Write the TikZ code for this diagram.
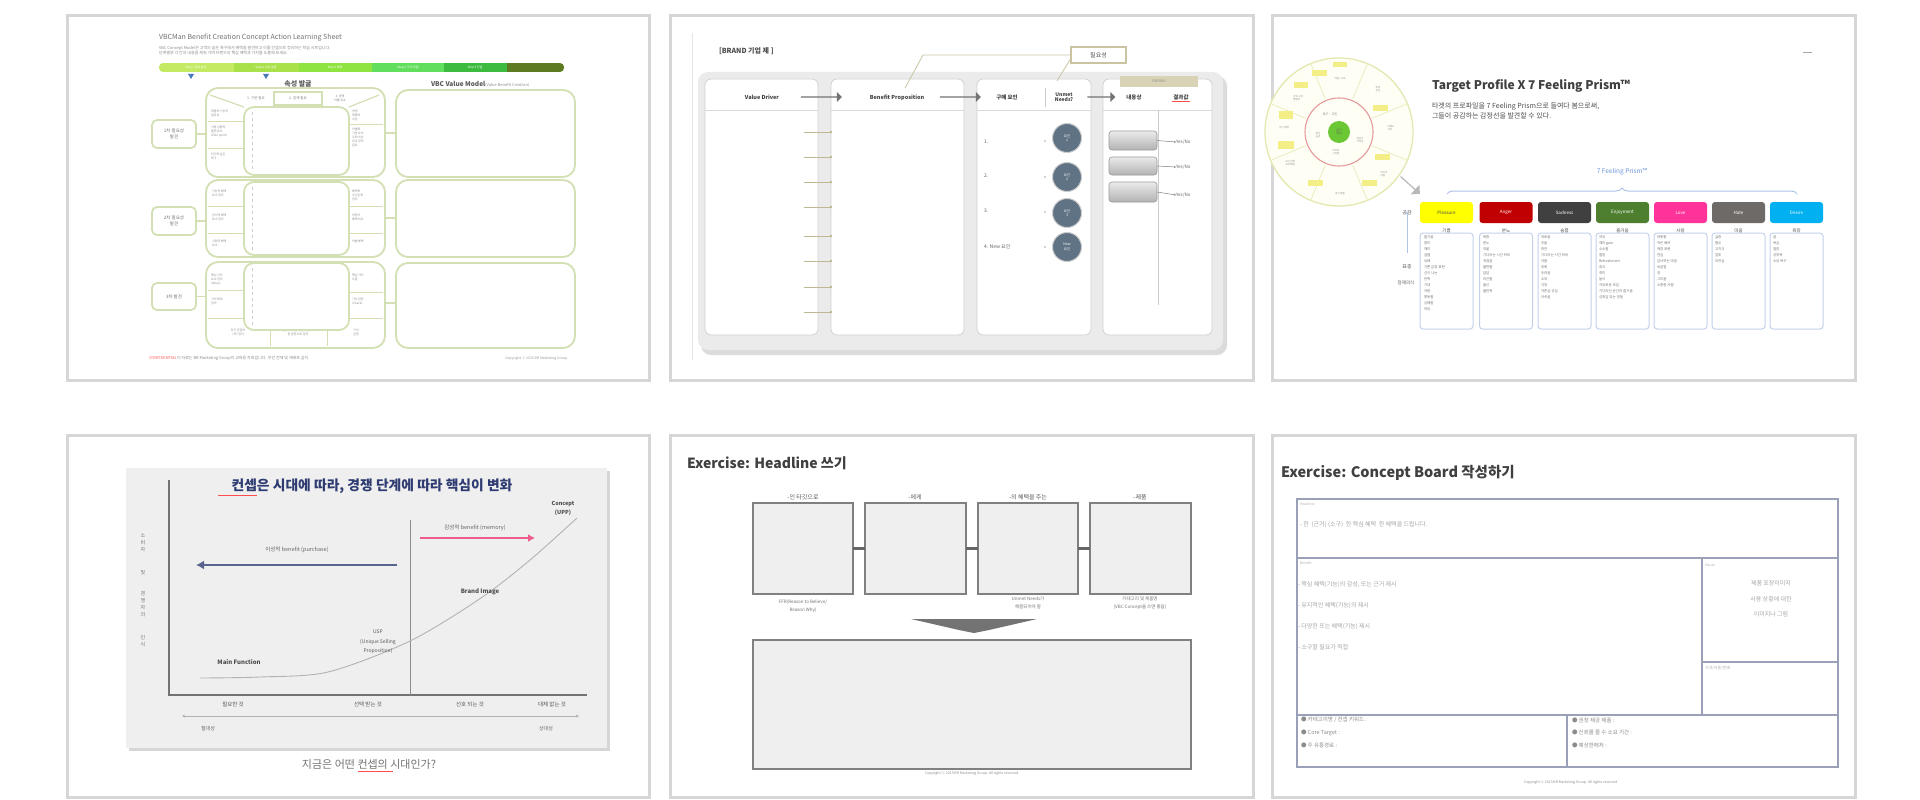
\documentclass[tikz,border=0pt]{standalone}
\usepackage{fontspec}
\setmainfont{Noto Sans CJK KR}
\usetikzlibrary{shapes.arrows,decorations.pathreplacing,arrows.meta}
\newcommand{\fsz}[2]{\fontsize{#1}{#2}\selectfont}
\definecolor{pnl}{HTML}{D6D6D6}
\definecolor{lg}{HTML}{D2E0B3}
\definecolor{barA}{HTML}{C3EA62}
\definecolor{barB}{HTML}{A9E14A}
\definecolor{barC}{HTML}{90E43F}
\definecolor{barD}{HTML}{62DE5E}
\definecolor{barE}{HTML}{3DBB3F}
\definecolor{barF}{HTML}{5C7C1F}
\definecolor{mk}{HTML}{4A79B8}
\definecolor{cont}{HTML}{EBEBEB}
\definecolor{tan}{HTML}{D9D3B6}
\definecolor{tanline}{HTML}{CAC4A3}
\definecolor{olv}{HTML}{BDB88F}
\definecolor{circ}{HTML}{5F7385}
\definecolor{emA}{HTML}{FFFF00}
\definecolor{emB}{HTML}{C00000}
\definecolor{emC}{HTML}{404040}
\definecolor{emD}{HTML}{4E7F2E}
\definecolor{emE}{HTML}{FF3399}
\definecolor{emF}{HTML}{6E6A68}
\definecolor{emG}{HTML}{00B0F0}
\definecolor{navy}{HTML}{2F3C72}
\definecolor{pinkar}{HTML}{EE5C8E}
\definecolor{bgfour}{HTML}{EFEFEF}
\definecolor{bdsix}{HTML}{9AA0B8}
\definecolor{prism}{HTML}{6E96DB}
\definecolor{prismline}{HTML}{AFC3E8}
\definecolor{listbd}{HTML}{C3D1EB}
\definecolor{ringy}{HTML}{E3E8B0}
\definecolor{ringr}{HTML}{E39A9A}
\definecolor{hily}{HTML}{F3EF86}
\begin{document}
\begin{tikzpicture}[x=1pt,y=-1pt,
  panel/.style={draw=pnl,line width=3},
  t/.style={inner sep=0pt,outer sep=0pt},
  gbox/.style={draw=lg,line width=1.8,fill=white},
  tiny/.style={t,font=\fsz{3}{4},text=black!45,align=left},
  col/.style={draw=black!18,fill=white,rounded corners=6,line width=0.8},
  btn/.style={draw=black!40,rounded corners=3,top color=black!8,bottom color=black!30,line width=0.6},
  bigarrow/.style={single arrow,fill=black!55,inner sep=0pt,minimum height=41,minimum width=10,single arrow head extend=1.5},
  emo/.style={t,rounded corners=3,minimum width=53,minimum height=21,font=\fsz{4.5}{5},text=white},
  lst/.style={t,anchor=north west,align=left,font=\fsz{3.5}{6},text=black!55},
  hbox/.style={draw=black!50,fill=bgfour,line width=1.3},
  bd/.style={draw=bdsix,line width=1.1},
  bul/.style={t,anchor=west,font=\fsz{5.5}{6},text=black!45},
]
\useasboundingbox[fill=white] (0,0) rectangle (1920,800);

%================ PANEL 1 =================
\draw[panel] (67,16) rectangle (649,380);
\node[t,anchor=west,text=black!55,font=\fsz{7}{8}] (p1title) at (159,38) {VBCMan Benefit Creation Concept Action Learning Sheet};
\node[t,anchor=north west,align=left,text=black!45,font=\fsz{4}{5.5}] (p1sub) at (159,46) {VBC Concept Model은 고객의 숨은 욕구에서 혜택을 발견하고 이를 컨셉으로 정리하는 학습 시트입니다.\\단계별로 각 칸의 내용을 채워 가며 브랜드의 핵심 혜택과 가치를 도출해 보세요.};
\begin{scope}
\clip[rounded corners=4] (159,63) rectangle (564,72);
\fill[barA] (159,63) rectangle (234,72);
\fill[barB] (234,63) rectangle (299,72);
\fill[barC] (299,63) rectangle (372,72);
\fill[barD] (372,63) rectangle (444,72);
\fill[barE] (444,63) rectangle (507,72);
\fill[barF] (507,63) rectangle (564,72);
\end{scope}
\node[t,font=\fsz{3}{3},text=white] (p1b1) at (196,67.5) {Step 1 필요 발견};
\node[t,font=\fsz{3}{3},text=white] (p1b2) at (266,67.5) {Step 2 속성 발굴};
\node[t,font=\fsz{3}{3},text=white] (p1b3) at (335,67.5) {Step 3 혜택};
\node[t,font=\fsz{3}{3},text=white] (p1b4) at (408,67.5) {Step 4 가치 모델};
\node[t,font=\fsz{3}{3},text=white] (p1b5) at (475,67.5) {Step 5 컨셉};
\fill[mk] (188,74) -- (194,74) -- (191,79) -- cycle;
\fill[mk] (263,74) -- (269,74) -- (266,79) -- cycle;
\node[t,font=\bfseries\fsz{7}{7},text=black!65] (p1h1) at (298,84) {속성 발굴};
\node[t,anchor=west,font=\bfseries\fsz{6.5}{7},text=black!65] (p1h2) at (431,84) {VBC Value Model{\mdseries\fsz{4}{4}\color{black!45} (Value Benefit Creation)}};
% left small boxes
\node[gbox,rounded corners=5,minimum width=44,minimum height=28,t,font=\fsz{4.5}{5.5},text=black!55,align=center] (p1l1) at (174,134) {1차 필요성\\발견};
\node[gbox,rounded corners=5,minimum width=44,minimum height=28,t,font=\fsz{4.5}{5.5},text=black!55,align=center] (p1l2) at (174,221) {2차 필요성\\발견};
\node[gbox,rounded corners=5,minimum width=44,minimum height=27,t,font=\fsz{4.5}{5.5},text=black!55,align=center] (p1l3) at (174,296.5) {3차 발견};
% middle frames
\draw[draw=lg,line width=1.8,rounded corners=12] (206,88) rectangle (385,177);
\draw[draw=lg,line width=1.8,rounded corners=12] (206,180) rectangle (385,257);
\draw[draw=lg,line width=1.8,rounded corners=12] (206,262) rectangle (385,348);
\draw[lg,line width=1.2] (210,95) -- (244,107);
\draw[lg,line width=1.2] (379,95) -- (349,107);
\draw[lg,line width=1.2] (274,92) rectangle (322,105);
\node[t,font=\fsz{3.5}{4},text=black!50] (p1c1) at (256,98) {1. 기본 필요};
\node[t,font=\fsz{3.5}{4},text=black!50] (p1c2) at (298,98) {2. 잠재 필요};
\node[t,font=\fsz{3}{4},text=black!50,align=center] (p1c3) at (340,98) {3. 경쟁\\차별 요소};
\draw[lg,line width=1] (208,121) -- (244,121);
\draw[lg,line width=1] (208,148) -- (244,148);
\draw[lg,line width=1] (208,206) -- (244,206);
\draw[lg,line width=1] (208,233) -- (244,233);
\draw[lg,line width=1] (208,290) -- (244,290);
\draw[lg,line width=1] (208,318) -- (383,318);
\draw[lg,line width=1] (349,124) -- (383,124);
\draw[lg,line width=1] (349,206) -- (383,206);
\draw[lg,line width=1] (349,233) -- (383,233);
\draw[lg,line width=1] (349,292) -- (383,292);
\draw[lg,line width=1] (270,318) -- (270,346);
\draw[lg,line width=1] (327,318) -- (327,346);
\node[tiny,anchor=north west] (p1s1) at (211,110) {제품의 기능적\\필요성};
\node[tiny,anchor=north west] (p1s2) at (211,126) {사용 상황의\\불편 요소\\(Pain point)};
\node[tiny,anchor=north west] (p1s3) at (211,153) {타깃의 숨은\\욕구};
\node[tiny,anchor=north west] (p1s4) at (212,190) {기능적 혜택\\요소 정리};
\node[tiny,anchor=north west] (p1s5) at (212,214) {정서적 혜택\\요소 정리};
\node[tiny,anchor=north west] (p1s6) at (212,240) {사회적 혜택\\요소};
\node[tiny,anchor=north west] (p1s7) at (211,274) {핵심 가치\\요소 정리\\(Value)};
\node[tiny,anchor=north west] (p1s8) at (211,298) {가치 체계\\정리};
\node[tiny,anchor=north west] (p1s9) at (352,110) {경쟁\\제품의\\속성};
\node[tiny,anchor=north west] (p1s10) at (352,128) {차별화\\가능 요소\\우위 속성\\비교 정리\\필요};
\node[tiny,anchor=north west] (p1s11) at (352,190) {혜택의\\우선순위\\정리};
\node[tiny,anchor=north west] (p1s12) at (352,214) {경쟁사\\혜택 비교};
\node[tiny,anchor=north west] (p1s13) at (352,240) {차별 혜택};
\node[tiny,anchor=north west] (p1s14) at (352,274) {핵심 가치\\도출};
\node[tiny,anchor=north west] (p1s15) at (352,298) {가치 검증\\(Check)};
\node[tiny,align=center] (p1s16) at (238,332) {타깃 관점의\\가치 정리};
\node[tiny,align=center] (p1s17) at (298,332) {브랜드가 제공하는 핵심 가치\\한 문장으로 정리};
\node[tiny,align=center] (p1s18) at (356,332) {가치\\검증};
% inner boxes
\draw[gbox,rounded corners=10] (244,107) rectangle (349,175);
\draw[gbox,rounded corners=10] (244,182) rectangle (349,255);
\draw[gbox,rounded corners=10] (244,263) rectangle (349,330);
\draw[black!20,dashed,line width=0.5] (252,112) -- (252,170);
\draw[black!20,dashed,line width=0.5] (252,187) -- (252,250);
\draw[black!20,dashed,line width=0.5] (252,268) -- (252,325);
% right boxes
\draw[draw=lg,line width=1.8,rounded corners=12] (396,90) rectangle (575,177);
\draw[draw=lg,line width=1.8,rounded corners=12] (396,180) rectangle (575,257);
\draw[draw=lg,line width=1.8,rounded corners=12] (396,263) rectangle (575,348);
\draw[lg,line width=1.4] (p1l1.east) -- (206,134);
\draw[lg,line width=1.4] (p1l2.east) -- (206,221);
\draw[lg,line width=1.4] (p1l3.east) -- (206,296.5);
\draw[lg,line width=1.4] (385,133) -- (396,133);
\draw[lg,line width=1.4] (385,218) -- (396,218);
\draw[lg,line width=1.4] (385,303) -- (396,303);
\node[t,anchor=west,font=\fsz{4}{4},text=red!65] (p1f1) at (149,358) {CONFIDENTIAL};
\node[t,anchor=west,font=\fsz{4}{4},text=black!45] (p1f2) at (177,358) {이 자료는 BR Marketing Group의 교육용 자료입니다. 무단 전재 및 재배포 금지.};
\node[t,anchor=west,font=\fsz{3.5}{4},text=black!40] (p1f3) at (505,358) {Copyright ⓒ 2015 BR Marketing Group};

%================ PANEL 2 =================
\draw[panel] (670,16) rectangle (1253,380);
\draw[black!10,line width=0.6] (692,33) -- (692,360);
\node[t,anchor=west,font=\bfseries\fsz{7}{7},text=black!70] (p2title) at (719,51) {[BRAND 기업 제 ]};
\fill[black!14,rounded corners=10] (701,76) rectangle (1227,355);
\fill[cont,rounded corners=10] (698,72) rectangle (1223,350);
\draw[col] (705,79) rectangle (818,335);
\draw[col] (831,79) rectangle (964,335);
\draw[col] (977,79) rectangle (1091,335);
\draw[col] (1103,79) rectangle (1212,335);
\foreach \a/\b in {705/818,831/964,977/1091,1103/1212} \draw[black!15,line width=0.6] (\a,110) -- (\b,110);
\node[t,font=\bfseries\fsz{5.5}{6},text=black!75] (p2h1) at (762,97) {Value Driver};
\node[t,font=\bfseries\fsz{5.5}{6},text=black!75] (p2h2) at (897,98) {Benefit Proposition};
\node[t,font=\bfseries\fsz{5.5}{6},text=black!75] (p2h3) at (1007,97) {구매 요인};
\draw[black!20,line width=0.6] (1045,88) -- (1045,107);
\node[t,font=\bfseries\fsz{5}{5.5},text=black!75,align=center] (p2h4) at (1064,97) {Unmet\\Needs?};
\node[t,font=\bfseries\fsz{5.5}{6},text=black!75] (p2h5) at (1134,97) {내용상};
\node[t,font=\bfseries\fsz{5.5}{6},text=black!75] (p2h6) at (1181,97) {결과값};
\draw[red!70,line width=0.6] (1172,101.5) -- (1190,101.5);
\node[bigarrow] (p2a1) at (821,97) {};
\node[bigarrow] (p2a2) at (960,97) {};
\node[bigarrow,minimum height=28] (p2a3) at (1101,97) {};
\node[t,fill=tan,minimum width=78,minimum height=11,font=\fsz{3.5}{4},text=black!45] (p2find) at (1159,81.5) {FINDING};
\node[t,draw=tanline,line width=1.2,fill=white,minimum width=55,minimum height=16,font=\fsz{6}{6},text=black!70] (p2call) at (1098.5,55) {필요성};
\draw[tanline,line width=0.8] (p2call.west) -- (923,55) -- (905,88);
\draw[tanline,line width=0.8] ([yshift=-3pt]p2call.west) -- (1057,81);
\foreach \y in {132,157,182,207,236,261,287,312} {
  \draw[olv,line width=0.8] (804,\y) -- (831,\y);
  \fill[olv] (831,\y) circle (1.4);
}
\node[t,anchor=west,font=\fsz{5}{5},text=black!60] (p2n1) at (984,142) {1.};
\node[t,anchor=west,font=\fsz{5}{5},text=black!60] (p2n2) at (984,176) {2.};
\node[t,anchor=west,font=\fsz{5}{5},text=black!60] (p2n3) at (984,211) {3.};
\node[t,anchor=west,font=\fsz{5}{5},text=black!60] (p2n4) at (984,247) {4. New 요인};
\node[t,font=\fsz{4.5}{5},text=black!55] (p2e1) at (1045,142) {=};
\node[t,font=\fsz{4.5}{5},text=black!55] (p2e2) at (1045,178) {=};
\node[t,font=\fsz{4.5}{5},text=black!55] (p2e3) at (1045,213) {=};
\node[t,font=\fsz{4.5}{5},text=black!55] (p2e4) at (1045,248) {=};
\node[t,circle,fill=circ,draw=black!20,line width=1,minimum size=29,font=\fsz{3.5}{4.5},text=white,align=center] (p2c1) at (1067,138) {요인\\1};
\node[t,circle,fill=circ,draw=black!20,line width=1,minimum size=29,font=\fsz{3.5}{4.5},text=white,align=center] (p2c2) at (1067,177) {요인\\2};
\node[t,circle,fill=circ,draw=black!20,line width=1,minimum size=29,font=\fsz{3.5}{4.5},text=white,align=center] (p2c3) at (1067,213) {요인\\3};
\node[t,circle,fill=circ,draw=black!20,line width=1,minimum size=29,font=\fsz{3.5}{4.5},text=white,align=center] (p2c4) at (1067,247) {New\\요인};
\draw[black!20,line width=0.6] (1158,110) -- (1158,305);
\node[btn,t,minimum width=48,minimum height=19] (p2b1) at (1133,140.5) {};
\node[btn,t,minimum width=48,minimum height=18] (p2b2) at (1133,166) {};
\node[btn,t,minimum width=48,minimum height=20] (p2b3) at (1133,192) {};
\node[t,anchor=west,font=\fsz{4.5}{5},text=black!60] (p2y1) at (1176,142) {Yes/No};
\node[t,anchor=west,font=\fsz{4.5}{5},text=black!60] (p2y2) at (1176,167) {Yes/No};
\node[t,anchor=west,font=\fsz{4.5}{5},text=black!60] (p2y3) at (1176,195) {Yes/No};
\draw[black!50,line width=0.5,-{Stealth[length=2pt 0,width=2pt 0]}] (p2b1.east) -- (p2y1.west);
\draw[black!50,line width=0.5,-{Stealth[length=2pt 0,width=2pt 0]}] (p2b2.east) -- (p2y2.west);
\draw[black!50,line width=0.5,-{Stealth[length=2pt 0,width=2pt 0]}] (p2b3.east) -- (p2y3.west);

%================ PANEL 3 =================
\draw[panel] (1272,16) rectangle (1855,380);
\draw[ringy,line width=1.3,fill=white!96!yellow] (1339,132) circle (74);
\foreach \a in {22.5,67.5,...,337.5} \draw[ringy,line width=0.6,shift={(1339,132)}] (\a:36) -- (\a:74);
\fill[hily] (1312,70) rectangle (1327,76);
\fill[hily] (1294,82) rectangle (1308,88);
\fill[hily] (1279,111) rectangle (1293,119);
\fill[hily] (1278,141) rectangle (1294,149);
\fill[hily] (1373,105) rectangle (1388,111);
\fill[hily] (1375,154) rectangle (1390,160);
\fill[hily] (1308,180) rectangle (1323,186);
\fill[hily] (1362,180) rectangle (1377,186);
\fill[hily] (1333,62) rectangle (1347,67);
\draw[ringr,line width=1.1] (1339,132) circle (34);
\fill[green!45!olive!80] (1339,132) circle (11);
\node[t,font=\fsz{3}{3.5},text=black!60,align=center] (p3cc) at (1339,132) {타깃\\핵심};
\node[t,font=\fsz{3}{3},text=black!55] (p3r1) at (1330,114) {욕구 · 고민};
\node[tiny,font=\fsz{2.5}{3.2}] (p3r2) at (1318,135) {일상\\습관};
\node[tiny,font=\fsz{2.5}{3.2}] (p3r3) at (1360,140) {관심사\\가치관};
\node[tiny,font=\fsz{2.5}{3.2}] (p3r4) at (1336,152) {라이프\\스타일};
\node[tiny,font=\fsz{2.5}{3.2}] (p3o1) at (1340,79) {직업 / 소득};
\node[tiny,font=\fsz{2.5}{3.2}] (p3o2) at (1298,98) {가족 구성\\연령대};
\node[tiny,font=\fsz{2.5}{3.2}] (p3o3) at (1284,128) {주거 형태};
\node[tiny,font=\fsz{2.5}{3.2}] (p3o4) at (1290,163) {소비 성향\\구매 채널};
\node[tiny,font=\fsz{2.5}{3.2}] (p3o5) at (1340,194) {여가 활동};
\node[tiny,font=\fsz{2.5}{3.2}] (p3o6) at (1384,174) {미디어\\이용};
\node[tiny,font=\fsz{2.5}{3.2}] (p3o7) at (1391,128) {브랜드\\선호};
\node[tiny,font=\fsz{2.5}{3.2}] (p3o8) at (1378,89) {취미\\관심};
\node[single arrow,fill=black!28,rotate=-42,minimum height=26,minimum width=13,single arrow head extend=2,inner sep=0pt] (p3arr) at (1410,185) {};
\draw[black!35,line width=1] (1803,53) -- (1812,53);
\node[t,anchor=west,font=\bfseries\fsz{12}{12},text=black!75] (p3title) at (1432,86) {Target Profile X 7 Feeling Prism™};
\node[t,anchor=north west,align=left,font=\fsz{7}{10},text=black!70] (p3sub) at (1432,103) {타겟의 프로파일을 7 Feeling Prism으로 들여다 봄으로써,\\그들이 공감하는 감정선을 발견할 수 있다.};
\node[t,font=\fsz{6.5}{7},text=prism] (p3prism) at (1622,172) {7 Feeling Prism™};
\draw[prismline,line width=1,decorate,decoration={brace,amplitude=6pt}] (1447,194) -- (1797,194);
\node[emo,fill=emA,text=black!70] (e1) at (1446.5,212.5) {Pleasure};
\node[emo,fill=emB] (e2) at (1506,212.5) {Anger};
\node[emo,fill=emC] (e3) at (1564.5,212.5) {Sadness};
\node[emo,fill=emD] (e4) at (1622.5,212.5) {Enjoyment};
\node[emo,fill=emE] (e5) at (1680.5,212.5) {Love};
\node[emo,fill=emF] (e6) at (1738.5,212.5) {Hate};
\node[emo,fill=emG] (e7) at (1796.5,212.5) {Desire};
\foreach \n/\k in {1/기쁨,2/분노,3/슬픔,4/즐거움,5/사랑,6/미움,7/욕망} {
  \node[t,font=\fsz{4.5}{5},text=black!70] (k\n) at ([yshift=-7.5pt]e\n.south) {\k};
  \draw[listbd,line width=1,rounded corners=3] ([xshift=-26.5pt,yshift=-10pt]e\n.south) rectangle ([xshift=26.5pt,yshift=-106pt]e\n.south);
}
\node[lst] (l1) at (1424,236) {즐거움\\흥미\\재미\\설렘\\유쾌\\기쁜 감정 표현\\신이 나는\\만족\\기대\\자랑\\뿌듯함\\상쾌함\\여유};
\node[lst] (l2) at (1483,236) {짜증\\분노\\억울\\기다리는 시간 허비\\귀찮음\\불편함\\답답\\피곤함\\불신\\불만족};
\node[lst] (l3) at (1541,236) {외로움\\우울\\허전\\기다리는 시간 허비\\아픔\\후회\\두려움\\소외\\걱정\\자존감 상실\\아쉬움};
\node[lst] (l4) at (1599,236) {여유\\재미 gain\\소소함\\힐링\\Refreshment\\휴식\\취미\\놀이\\자유로운 모임\\기다리던 순간의 즐거움\\성취감 있는 경험};
\node[lst] (l5) at (1657,236) {따뜻함\\작은 배려\\애정 표현\\관심\\감사하는 마음\\보살핌\\정\\그리움\\소중한 사람};
\node[lst] (l6) at (1715,236) {싫증\\혐오\\고지식\\질투\\무관심};
\node[lst] (l7) at (1773,236) {꿈\\욕심\\열망\\성취욕\\소유 욕구};
\node[t,font=\fsz{5}{5},text=black!65] (p3g1) at (1407,213) {공감};
\node[t,font=\fsz{5}{5},text=black!65] (p3g2) at (1407,267) {표층};
\node[t,font=\fsz{4.5}{5},text=black!65] (p3g3) at (1406,283) {잠재의식};
\draw[prismline,line width=0.8,-{Stealth[length=3pt 0,width=2.5pt 0]}] (p3g2.north) ++(0,-12) -- ([yshift=4pt]p3g1.south);

%================ PANEL 4 =================
\draw[panel] (67,435) rectangle (649,797);
\fill[black!16] (129,471) rectangle (610,751);
\fill[bgfour] (126,468) rectangle (607,748);
\node[t,font=\bfseries\fsz{13.8}{14},text=navy] (p4title) at (372,486) {컨셉은 시대에 따라, 경쟁 단계에 따라 핵심이 변화};
\draw[red!70,line width=0.6] (218,495) -- (257,495);
\draw[black!55,line width=1.2] (169,480) -- (169,695) -- (587,695);
\node[t,align=center,font=\fsz{5}{7.2},text=black!55] (p4y1) at (143,543) {소\\비\\자};
\node[t,align=center,font=\fsz{5}{7.2},text=black!55] (p4y2) at (143,573) {및};
\node[t,align=center,font=\fsz{5}{7.2},text=black!55] (p4y3) at (143,604) {경\\쟁\\자\\의};
\node[t,align=center,font=\fsz{5}{7.2},text=black!55] (p4y4) at (143,641) {인\\식};
\draw[black!45,line width=0.8] (410,520) -- (410,695);
\draw[black!30,line width=0.9] plot[smooth] coordinates {(200,678) (260,677) (328,672) (410,641) (481,598) (530,560) (577,518)};
\node[t,font=\bfseries\fsz{6}{6},text=black!70] (p4m) at (239,662) {Main Function};
\node[t,align=center,font=\fsz{5}{9.5},text=black!65] (p4usp) at (378,642) {USP\\(Unique Selling\\Proposition)};
\node[t,font=\bfseries\fsz{6}{6},text=black!70] (p4bi) at (480,592) {Brand Image};
\node[t,align=center,font=\bfseries\fsz{5.5}{9},text=black!70] (p4con) at (563,508) {Concept\\(UPP)};
\coordinate (p4ba) at (397,565);
\coordinate (p4bb) at (196,565);
\draw[navy!80,line width=2.6,-{Latex[length=8pt 0,width=9pt 0]}] (p4ba) -- (p4bb);
\node[t,font=\fsz{5.5}{6},text=black!60] (p4bl) at (297,550) {이성적 benefit (purchase)};
\coordinate (p4pa) at (420,538);
\coordinate (p4pb) at (535,538);
\draw[pinkar,line width=2.2,-{Latex[length=7pt 0,width=8pt 0]}] (p4pa) -- (p4pb);
\node[t,font=\fsz{5.5}{6},text=black!60] (p4pl) at (475,528) {감성적 benefit (memory)};
\node[t,font=\fsz{5.5}{6},text=black!65] (p4x1) at (233,704) {필요한 것};
\node[t,font=\fsz{5.5}{6},text=black!65] (p4x2) at (368,704) {선택 받는 것};
\node[t,font=\fsz{5.5}{6},text=black!65] (p4x3) at (470,704) {선호 되는 것};
\node[t,font=\fsz{5.5}{6},text=black!65] (p4x4) at (552,704) {대체 없는 것};
\coordinate (p4da) at (182,716);
\coordinate (p4db) at (579,716);
\draw[black!30,line width=0.6,{Stealth[length=3pt 0,width=3pt 0]}-{Stealth[length=3pt 0,width=3pt 0]}] (p4da) -- (p4db);
\node[t,font=\fsz{5}{5},text=black!60] (p4a1) at (208,729) {절대성};
\node[t,font=\fsz{5}{5},text=black!60] (p4a2) at (546,729) {상대성};
\node[t,font=\fsz{11}{11},text=black!55] (p4cap) at (369,764) {지금은 어떤 컨셉의 시대인가?};
\draw[red!70,line width=0.6] (358,771.5) -- (393,771.5);

%================ PANEL 5 =================
\draw[panel] (670,435) rectangle (1253,797);
\node[t,anchor=west,font=\bfseries\fsz{14}{14},text=black!75] (p5title) at (687,463) {Exercise: Headline 쓰기};
\node[hbox,t,minimum width=100,minimum height=91] (h1) at (803,548.5) {};
\node[hbox,t,minimum width=101,minimum height=91] (h2) at (915.5,548.5) {};
\node[hbox,t,minimum width=100,minimum height=91] (h3) at (1028,548.5) {};
\node[hbox,t,minimum width=101,minimum height=91] (h4) at (1140.5,548.5) {};
\draw[black!60,line width=2.5] (h1.east) -- (h2.west);
\draw[black!60,line width=2.5] (h2.east) -- (h3.west);
\draw[black!60,line width=2.5] (h3.east) -- (h4.west);
\node[t,font=\fsz{6}{6},text=black!65] (h1t) at (803,497) {-인 타깃으로};
\node[t,font=\fsz{6}{6},text=black!65] (h2t) at (915,497) {-에게};
\node[t,font=\fsz{6}{6},text=black!65] (h3t) at (1028,497) {-의 혜택을 주는};
\node[t,font=\fsz{6}{6},text=black!65] (h4t) at (1140,497) {-제품};
\node[t,align=center,font=\fsz{4.5}{7.5},text=black!55] (h1b) at (803,606) {FFR(Reason to Believe/\\Reason Why)};
\node[t,align=center,font=\fsz{4.5}{7.5},text=black!55] (h3b) at (1028,603) {Unmet Needs가\\해결되어야 할};
\node[t,align=center,font=\fsz{4.5}{7.5},text=black!55] (h4b) at (1140,603) {카테고리 및 제품명\\(VBC Concept을 쓰면 좋음)};
\fill[black!55] (911,619) -- (1037,619) -- (989,630) -- (974,633) -- (959,630) -- cycle;
\node[hbox,t,minimum width=438,minimum height=129] (hbig) at (972,704.5) {};
\node[t,font=\fsz{3.5}{4},text=black!45] (p5copy) at (972,773) {Copyright ⓒ 2015 BR Marketing Group. All rights reserved.};

%================ PANEL 6 =================
\draw[panel] (1272,435) rectangle (1855,797);
\node[t,anchor=west,font=\bfseries\fsz{14.5}{15},text=black!75] (p6title) at (1281,473) {Exercise: Concept Board 작성하기};
\draw[bd] (1297,499) rectangle (1838,767);
\draw[bd] (1297,558) -- (1838,558);
\draw[bd] (1702,558) -- (1702,715);
\draw[bd] (1702,662) -- (1838,662);
\draw[bd] (1297,715) -- (1838,715);
\draw[bd] (1567,715) -- (1567,767);
\node[t,anchor=north west,font=\fsz{3.5}{4},text=black!30] (p6l1) at (1300,503) {Headline};
\node[t,anchor=west,font=\fsz{6}{6},text=black!35] (p6hl) at (1300,525) {- 한 ~(근거) (소구) ~한 핵심 혜택 ~한 혜택을 드립니다.};
\node[t,anchor=north west,font=\fsz{3.5}{4},text=black!30] (p6l2) at (1300,562) {Benefit};
\node[t,anchor=north west,align=left,font=\fsz{6}{20.8},text=black!35] (p6ben) at (1298,582) {- 핵심 혜택(기능)의 감성, 또는 근거 제시\\- 유지적인 혜택(기능)의 제시\\- 다양한 또는 혜택(기능) 제시\\- 소구할 필요가 적합};
\node[t,anchor=north west,font=\fsz{3.5}{4},text=black!30] (p6l3) at (1705,564) {Visual};
\node[t,align=center,font=\fsz{6}{15.5},text=black!35] (p6vis) at (1771,599) {제품 포장이미지\\사용 상황에 대한\\이미지나 그림};
\node[t,anchor=north west,font=\fsz{4}{4},text=black!30] (p6l4) at (1705,666) {가격/유통/판매};
\node[bul] (p6b1) at (1301,720) {● 카테고리명 / 컨셉 키워드 :};
\node[bul] (p6b2) at (1301,732.5) {● Core Target :};
\node[bul] (p6b3) at (1301,745) {● 주 유통경로 :};
\node[bul] (p6b4) at (1572,720) {● 권장 제공 제품 :};
\node[bul] (p6b5) at (1572,732.5) {● 신뢰를 줄 수 소요 기간 :};
\node[bul] (p6b6) at (1572,745) {● 예상판매처 :};
\node[t,font=\fsz{3.5}{4},text=black!45] (p6copy) at (1571,782) {Copyright ⓒ 2015 BR Marketing Group. All rights reserved.};
\end{tikzpicture}
\end{document}
